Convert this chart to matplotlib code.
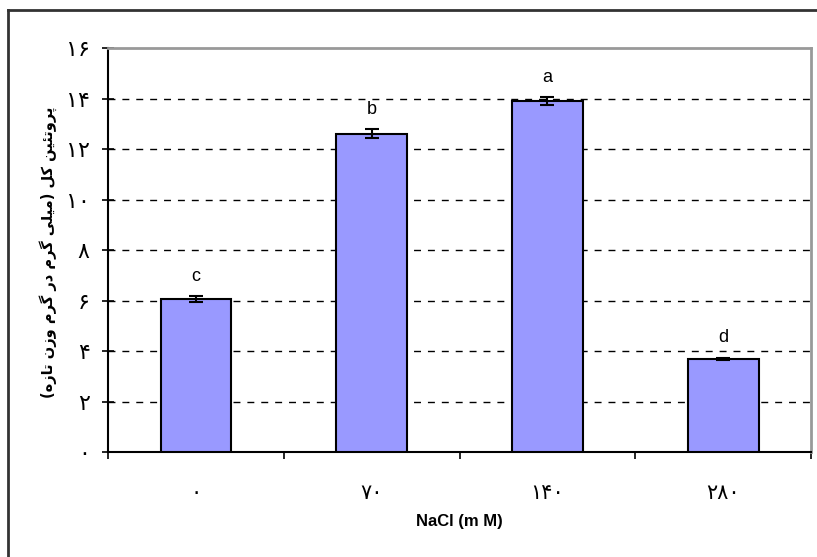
import matplotlib
matplotlib.use('Agg')
import matplotlib.pyplot as plt
from matplotlib.lines import Line2D

# data
nacl_levels = ['0', '70', '140', '280']
protein = [6.05, 12.6, 13.9, 3.7]
protein_err = [0.12, 0.18, 0.15, 0.04]
letters = ['c', 'b', 'a', 'd']
yticks = [0, 2, 4, 6, 8, 10, 12, 14, 16]

ylabel_fa = 'پروتئین کل (میلی گرم در گرم وزن تازه)'
xlabel = 'NaCl (m M)'

FA_DIGITS = str.maketrans('0123456789', '۰۱۲۳۴۵۶۷۸۹')

# (isolated, final, initial, medial) presentation forms
FORMS = {
    'ا': ('\uFE8D', '\uFE8E', None, None),
    'پ': ('\uFB56', '\uFB57', '\uFB58', '\uFB59'),
    'ر': ('\uFEAD', '\uFEAE', None, None),
    'و': ('\uFEED', '\uFEEE', None, None),
    'ت': ('\uFE95', '\uFE96', '\uFE97', '\uFE98'),
    'ئ': ('\uFE89', '\uFE8A', '\uFE8B', '\uFE8C'),
    'ی': ('\uFBFC', '\uFBFD', '\uFBFE', '\uFBFF'),
    'ن': ('\uFEE5', '\uFEE6', '\uFEE7', '\uFEE8'),
    'ک': ('\uFB8E', '\uFB8F', '\uFB90', '\uFB91'),
    'ل': ('\uFEDD', '\uFEDE', '\uFEDF', '\uFEE0'),
    'م': ('\uFEE1', '\uFEE2', '\uFEE3', '\uFEE4'),
    'گ': ('\uFB92', '\uFB93', '\uFB94', '\uFB95'),
    'د': ('\uFEA9', '\uFEAA', None, None),
    'ز': ('\uFEAF', '\uFEB0', None, None),
    'ه': ('\uFEE9', '\uFEEA', '\uFEEB', '\uFEEC'),
}


def shape_fa(text):
    # simple contextual shaping + reversal so matplotlib draws it right-to-left
    out = []
    for i, ch in enumerate(text):
        if ch not in FORMS:
            out.append(ch)
            continue
        prev = text[i - 1] if i > 0 else ''
        nxt = text[i + 1] if i + 1 < len(text) else ''
        j_prev = prev in FORMS and FORMS[prev][2] is not None
        j_next = nxt in FORMS and FORMS[ch][2] is not None
        iso, fin, ini, med = FORMS[ch]
        if j_prev and j_next:
            out.append(med)
        elif j_prev:
            out.append(fin)
        elif j_next:
            out.append(ini)
        else:
            out.append(iso)
    vis = ''.join(out)[::-1]
    return vis.translate(str.maketrans('()', ')('))


plt.rcParams['font.family'] = ['DejaVu Sans']

fig = plt.figure(figsize=(8.17, 5.57), dpi=100)
ax = fig.add_axes([0.132, 0.1885, 0.861, 0.7253])

x = range(len(protein))
ax.bar(x, protein, width=0.4, color='#9999FF', edgecolor='black', linewidth=1.5, zorder=3)
ax.errorbar(x, protein, yerr=protein_err, fmt='none', ecolor='black',
            elinewidth=1.5, capsize=5, capthick=1.5, zorder=4)

for xi, v, e, lab in zip(x, protein, protein_err, letters):
    ax.annotate(lab, (xi, v + e), xytext=(0, 8), textcoords='offset points',
                ha='center', va='bottom', fontsize=13, family='Liberation Sans')

ax.set_xlim(-0.5, 3.5)
ax.set_ylim(0, 16)
ax.set_yticks(yticks)
ax.set_yticklabels([str(t).translate(FA_DIGITS) for t in yticks], fontsize=16)
ax.set_xticks(list(x))
ax.set_xticklabels([s.translate(FA_DIGITS) for s in nacl_levels], fontsize=15)
ax.set_xticks([-0.5, 0.5, 1.5, 2.5, 3.5], minor=True)
ax.tick_params(axis='x', which='major', length=0, pad=22)
ax.tick_params(axis='x', which='minor', length=5, width=1.2, direction='out')
ax.tick_params(axis='y', length=8, width=1.2, direction='inout', pad=9)

for g in yticks[1:-1]:
    ax.axhline(g, color='black', linestyle=(0, (5, 5)), linewidth=1, zorder=1)

for side in ['top', 'right']:
    ax.spines[side].set_color('#999999')
    ax.spines[side].set_linewidth(2)
for side in ['left', 'bottom']:
    ax.spines[side].set_color('black')
    ax.spines[side].set_linewidth(1.5)

ax.set_xlabel(xlabel, fontsize=12, fontweight='bold', family='Liberation Sans',
              va='center')
ax.xaxis.set_label_coords(0.5, -0.171)
ax.set_ylabel(shape_fa(ylabel_fa), fontsize=10.5, fontweight='bold', va='center')
ax.yaxis.set_label_coords(-0.085, 0.495)

# outer chart frame (left and top edges visible)
fig.add_artist(Line2D([0.010, 0.010], [0.0, 0.982], transform=fig.transFigure,
                      color='#333333', linewidth=2))
fig.add_artist(Line2D([0.010, 1.0], [0.982, 0.982], transform=fig.transFigure,
                      color='#333333', linewidth=2))

fig.savefig('out.png', dpi=100)
